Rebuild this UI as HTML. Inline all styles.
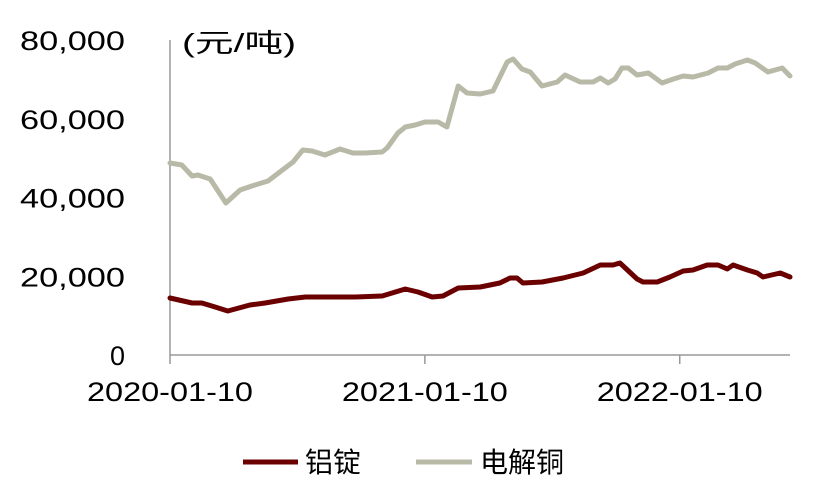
<!DOCTYPE html>
<html><head><meta charset="utf-8"><style>
html,body{margin:0;padding:0;background:#fff;}
svg{display:block;font-family:"Liberation Sans","Noto Sans CJK SC",sans-serif;}
</style></head><body>
<svg id="chart" width="831" height="502" viewBox="0 0 831 502" xmlns="http://www.w3.org/2000/svg">
<g id="axes"></g>
<g id="series"></g>
<text x="182" y="52" font-size="26" fill="#000" textLength="114" lengthAdjust="spacingAndGlyphs">(元/吨)</text>
<g>
<g>
<line x1="243" y1="462" x2="298" y2="462" stroke="#6b0000" stroke-width="5"/>
<text x="305" y="472" font-size="28" fill="#000">铝锭</text></g>
<g>
<line x1="416" y1="462" x2="472" y2="462" stroke="#b9b9a8" stroke-width="5"/>
<text x="480" y="472" font-size="28" fill="#000">电解铜</text></g>
</g>
</svg>
<script>
const yTicks=[0,20000,40000,60000,80000];
const yTickLabels=["0","20,000","40,000","60,000","80,000"];
const xTicks=[0,52,104];
const xTickLabels=["2020-01-10","2021-01-10","2022-01-10"];
const copperWeeks=[0,2.4,4.5,5.7,8.2,11.4,14.3,16.7,20,22.4,25.1,27.1,29,31.6,34.7,37.3,39.8,43.3,44.3,46.5,48,50,52,54.7,56.5,58.8,60.6,63.3,65.9,68.8,70,71.8,73.5,75.9,79,80.6,83.7,86.3,87.8,89.4,90.8,92.2,93.5,95.3,97.6,100.4,102.7,104.7,106.7,109.8,111.8,113.7,115.3,117.8,119.4,122,124.9,126.5];
const copperValues=[48760,48250,45460,45710,44700,38600,41900,42920,44190,46480,49020,52060,51810,50790,52320,51300,51300,51560,52570,56380,57900,58410,59180,59180,57900,68320,66540,66290,67050,74410,75170,72640,71870,68320,69330,71110,69330,69330,70350,69080,70100,72890,72890,71110,71620,69080,70100,70860,70600,71620,72890,72890,73900,74920,74160,71870,72890,70860];
const aluWeeks=[0,4.5,6.5,9.2,11.8,16.3,19.4,24.1,27.6,33,37.8,43.3,48,50.6,53.5,55.7,58.8,63.3,67.3,69.4,70.8,72,75.9,80.2,84.3,87.8,90.4,91.8,95.3,96.5,99.4,102,104.7,106.7,109.6,111.8,113.7,114.9,117.8,119.8,121,124.5,126.5];
const aluValues=[14480,13210,13210,12190,11170,12700,13210,14220,14730,14730,14730,14980,16760,16000,14730,14980,17020,17270,18290,19560,19560,18290,18540,19560,20830,22860,22860,23370,19300,18540,18540,19810,21330,21590,22860,22860,21840,22860,21590,20830,19810,20830,19810];

const NS="http://www.w3.org/2000/svg";
const X0=170,X1=790,Y0=355,YT=40;
const xMax=126.5;
function xs(w){return X0+w*(X1-X0)/xMax;}
function ys(v){return Y0-v*(Y0-YT)/80000;}
const axes=document.getElementById('axes');
function mk(tag,attrs,parent){const e=document.createElementNS(NS,tag);for(const k in attrs)e.setAttribute(k,attrs[k]);parent.appendChild(e);return e;}
let l=mk('line',{x1:X0,y1:YT,x2:X0,y2:Y0,stroke:'#999','stroke-width':1.5},axes);


l=mk('line',{x1:X0,y1:Y0,x2:X1,y2:Y0,stroke:'#999','stroke-width':1.5},axes);


yTicks.forEach((v,i)=>{
  const lab=yTickLabels[i];
  const t=mk('text',{x:125,y:ys(v)+10,'font-size':27,'text-anchor':'end',fill:'#000'},axes);
  if(lab.length>1){t.setAttribute('textLength',lab.length*17.5);t.setAttribute('lengthAdjust','spacingAndGlyphs');}
  t.textContent=lab;
  
  
});
xTicks.forEach((w,i)=>{
  const tk=mk('line',{x1:xs(w),y1:Y0,x2:xs(w),y2:Y0+9,stroke:'#999','stroke-width':1.5},axes);
  
  
  const t=mk('text',{x:xs(w),y:401,'font-size':27,'text-anchor':'middle',fill:'#000',textLength:166,lengthAdjust:'spacingAndGlyphs'},axes);
  t.textContent=xTickLabels[i];
  
  
});
const series=document.getElementById('series');
function line(ws,vs,color,name){
  const d=ws.map((w,i)=>(i?'L':'M')+xs(w).toFixed(1)+','+ys(vs[i]).toFixed(1)).join(' ');
  const p=mk('path',{d:d,fill:'none',stroke:color,'stroke-width':5,'stroke-linejoin':'round','stroke-linecap':'round'},series);
  
  
}
line(copperWeeks,copperValues,'#b9b9a8','copper-line');
line(aluWeeks,aluValues,'#6b0000','aluminum-line');
</script>
</body></html>
